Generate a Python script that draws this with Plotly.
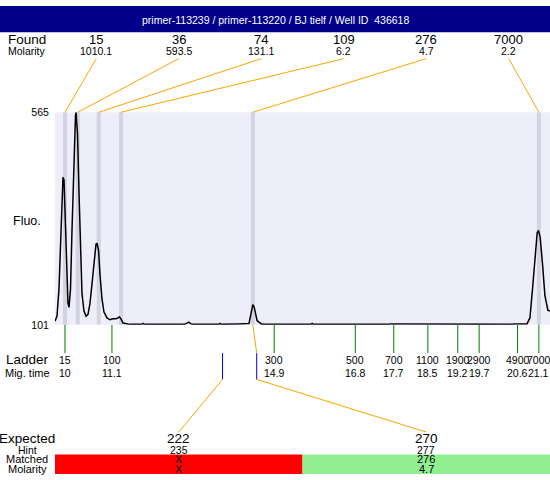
import plotly.graph_objects as go

W, H = 550, 480
TITLE = "primer-113239 / primer-113220 / BJ tielf / Well ID  436618"

# electropherogram (migration time in min, fluorescence)
mig_time = [9.766, 9.813, 9.859, 9.906, 9.941, 9.953, 9.977, 10.000, 10.035, 10.070,
            10.094, 10.129, 10.164, 10.211, 10.246, 10.258, 10.293, 10.328, 10.363, 10.398,
            10.445, 10.492, 10.539, 10.585, 10.632, 10.679, 10.726, 10.749, 10.785, 10.820,
            10.866, 10.913, 10.984, 11.054, 11.124, 11.194, 11.276, 11.311, 11.358, 11.522,
            11.80, 11.83, 11.86, 12.80, 12.86, 12.90, 12.95, 13.00, 13.60, 13.63,
            13.66, 14.05, 14.07, 14.31, 14.36, 14.40, 14.43, 14.50, 14.61, 15.76,
            15.79, 15.82, 17.59, 17.62, 20.49, 20.51, 20.82, 20.89, 20.95, 21.01,
            21.06, 21.09, 21.13, 21.19, 21.24, 21.31, 21.36]
fluorescence = [109, 120, 179, 307, 391, 423, 417, 338, 222, 148,
                139, 179, 307, 476, 557, 565, 518, 391, 254, 169,
                131, 120, 124, 148, 190, 243, 277, 279, 264, 211,
                158, 129, 116, 112, 114, 114, 118, 114, 105, 102,
                102, 104, 102, 102, 106, 107, 103, 102, 102, 104,
                102, 102, 103, 104, 125, 145, 140, 110, 102, 102,
                104, 102, 102, 103, 102, 103, 103, 116, 179, 249,
                302, 307, 292, 228, 165, 133, 131]

# found peaks
peak_times = [10.00, 10.30, 10.79, 11.31, 14.40, 21.10]
found_size = ["15", "36", "74", "109", "276", "7000"]
found_molarity = ["1010.1", "593.5", "131.1", "6.2", "4.7", "2.2"]

# ladder
ladder_size = ["15", "100", "300", "500", "700", "1100", "1900", "2900", "4900", "7000"]
ladder_time = ["10", "11.1", "14.9", "16.8", "17.7", "18.5", "19.2", "19.7", "20.6", "21.1"]

# expected fragments
expected_size = ["222", "270"]
expected_time = [13.69, 14.49]
expected_hint = ["235", "277"]
matched_size = ["X", "276"]
matched_molarity = ["X", "4.7"]
matched_peak = [None, 4]
matched_ok = [False, True]

Y_RANGE = [101, 565]
X_RANGE = [9.766, 21.36]

# layout (pixels)
PL, PR, PT, PB = 55, 550, 109, 327
FONT = "Liberation Sans, Arial, sans-serif"


def py(p):
    return 1 - p / H


def pxx(p):
    return p / W


def px_to_x(p):
    return X_RANGE[0] + (p - PL) / (PR - PL) * (X_RANGE[1] - X_RANGE[0])


fig = go.Figure()
fig.add_trace(go.Scatter(x=mig_time, y=fluorescence, mode="lines",
                         line=dict(color="black", width=1.5), hoverinfo="skip",
                         showlegend=False))

shapes = []
ann = []


def text(x, y, s, size, xref="paper", color="black", xanchor="center"):
    ann.append(dict(x=x, y=y, xref=xref, yref="paper", text=s, showarrow=False,
                    xanchor=xanchor, yanchor="middle", borderpad=0,
                    font=dict(size=size, color=color, family=FONT)))


# title bar
shapes.append(dict(type="rect", xref="paper", yref="paper", x0=0, x1=1,
                   y0=py(27), y1=1, fillcolor="#00008B", line=dict(width=0)))
text(0.5, py(14), TITLE, 10.5, color="white")

# row labels
LBL_X = pxx(27)
text(LBL_X, py(34), "Found", 13.5)
text(LBL_X, py(46), "Molarity", 10.5)
text(LBL_X, py(221), "Fluo.", 12.5)
text(LBL_X, py(363), "Ladder", 13.5)
text(LBL_X, py(376), "Mig. time", 11)
text(LBL_X, py(444), "Expected", 13.5)
text(LBL_X, py(455), "Hint", 10.5)
text(LBL_X, py(465), "Matched", 11)
text(LBL_X, py(474.5), "Molarity", 11)

# peak bands and found labels
col_w = (PR - PL) / len(found_size)
for i, t in enumerate(peak_times):
    shapes.append(dict(type="line", xref="x", yref="y", x0=t, x1=t,
                       y0=Y_RANGE[0], y1=Y_RANGE[1], layer="below",
                       line=dict(color="#D3D3E1", width=4)))
    cx = PL + col_w * (i + 0.5)
    text(pxx(cx), py(34), found_size[i], 13)
    text(pxx(cx), py(46), found_molarity[i], 10.5)
    shapes.append(dict(type="line", xref="x", yref="paper", x0=px_to_x(cx), x1=t,
                       y0=py(54), y1=py(PT), line=dict(color="#FFA500", width=1)))

# ladder
for s, t in zip(ladder_size, ladder_time):
    tv = float(t)
    shapes.append(dict(type="line", xref="x", yref="paper", x0=tv, x1=tv,
                       y0=py(PB), y1=py(356), line=dict(color="#007A00", width=1)))
    text(tv, py(363), s, 10.5, xref="x")
    text(tv, py(376), t, 10.5, xref="x")

# expected fragments
half_w = (PR - PL) / len(expected_size)
for i, t in enumerate(expected_time):
    cx = PL + half_w * (i + 0.5)
    shapes.append(dict(type="line", xref="x", yref="paper", x0=t, x1=t,
                       y0=py(356), y1=py(383), line=dict(color="#0000FF", width=1)))
    shapes.append(dict(type="line", xref="x", yref="paper", x0=t, x1=px_to_x(cx),
                       y0=py(383), y1=py(437), line=dict(color="#FFA500", width=1)))
    if matched_peak[i] is not None:
        pt = peak_times[matched_peak[i]]
        shapes.append(dict(type="line", xref="x", yref="paper", x0=pt, x1=t,
                           y0=py(PB), y1=py(356), line=dict(color="#FFA500", width=1)))
    shapes.append(dict(type="rect", xref="paper", yref="paper",
                       x0=pxx(PL + half_w * i), x1=pxx(PL + half_w * (i + 1)),
                       y0=py(480), y1=py(460),
                       fillcolor="#90EE90" if matched_ok[i] else "#FF0000",
                       line=dict(width=0), layer="below"))
    text(pxx(cx), py(444), expected_size[i], 13.5)
    text(pxx(cx), py(455), expected_hint[i], 10.5)
    text(pxx(cx), py(465), matched_size[i], 11)
    text(pxx(cx), py(474.5), matched_molarity[i], 11)

fig.update_layout(
    width=W, height=H, margin=dict(l=0, r=0, t=0, b=0),
    paper_bgcolor="white", plot_bgcolor="#EEEEFA",
    showlegend=False, shapes=shapes, annotations=ann,
    font=dict(family=FONT, size=11, color="black"),
    xaxis=dict(domain=[PL / W, PR / W], range=X_RANGE, showgrid=False,
               zeroline=False, showticklabels=False, ticks="", showline=False),
    yaxis=dict(domain=[py(PB), py(PT)], range=Y_RANGE, showgrid=False,
               zeroline=False, tickvals=Y_RANGE, ticktext=[str(v) for v in Y_RANGE],
               ticks="outside", ticklen=3, tickcolor="rgba(0,0,0,0)",
               tickfont=dict(size=10.5, family=FONT), showline=False),
)

fig.write_html("out.html",
               config={"displayModeBar": False},
               post_script="document.body.style.margin='0';"
                           "document.body.style.overflow='hidden';")
